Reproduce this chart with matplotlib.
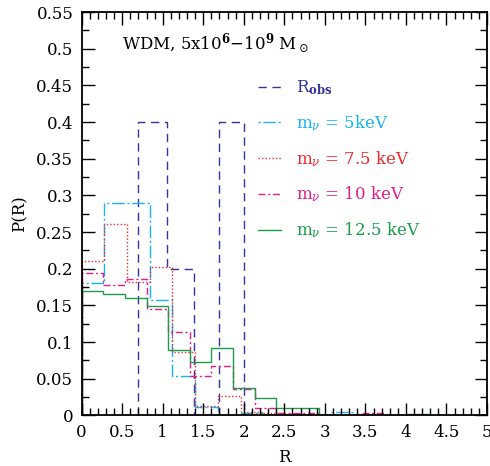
import numpy as np
import matplotlib
matplotlib.use("Agg")
import matplotlib.pyplot as plt
from matplotlib.ticker import MultipleLocator
from matplotlib.lines import Line2D

plt.rcParams['font.family'] = ['DejaVu Serif']
plt.rcParams['mathtext.fontset'] = 'dejavuserif'

# --- data ---
obs_edges = [0.70, 1.05, 1.38, 1.69, 2.00]
obs_vals = [0.40, 0.20, 0.00, 0.40]

w_a = 0.28          # bin width for 5 and 7.5 keV
cyan_vals = [0.180, 0.290, 0.290, 0.157, 0.054, 0.012, 0.0, 0.004, 0.0, 0.0, 0.0, 0.005]
red_vals = [0.2105, 0.2615, 0.182, 0.203, 0.087, 0.0127, 0.026, 0.005, 0.004, 0.002, 0.0, 0.0, 0.002]

w_b = 4.0 / 15.0    # bin width for 10 and 12.5 keV
mag_vals = [0.194, 0.1775, 0.1865, 0.1455, 0.1136, 0.0545, 0.0668, 0.0364, 0.010, 0.003, 0.003,
            0.0, 0.0, 0.004]
green_vals = [0.170, 0.166, 0.1605, 0.149, 0.0886, 0.0727, 0.0917, 0.0378, 0.0245, 0.0098, 0.0098,
              0.0, 0.0, 0.0, 0.0, 0.002]

labels = [r'R$_{\mathbf{obs}}$', r'm$_\nu$ = 5keV', r'm$_\nu$ = 7.5 keV',
          r'm$_\nu$ = 10 keV', r'm$_\nu$ = 12.5 keV']
colors = ['#34349a', '#18b4ec', '#ec2a30', '#e21d8c', '#1a9e4c']
title_text = r'WDM, 5x10$^\mathbf{6}$$-$10$^\mathbf{9}$ M$_\odot$'

fig = plt.figure(figsize=(4.9, 4.66), dpi=100)
ax = fig.add_axes([0.1667, 0.1084, 0.8272, 0.8658])

ax.stairs(obs_vals, obs_edges, baseline=0, color=colors[0], lw=1.0,
          linestyle=(0, (6, 4)))
e_a = np.arange(len(cyan_vals) + 1) * w_a
ax.stairs(cyan_vals, e_a, baseline=0, color=colors[1], lw=1.0,
          linestyle=(0, (9, 2, 1.5, 2)))
e_r = np.arange(len(red_vals) + 1) * w_a
ax.stairs(red_vals, e_r, baseline=0, color=colors[2], lw=1.0,
          linestyle=(0, (1, 1.5)))
e_m = np.arange(len(mag_vals) + 1) * w_b
ax.stairs(mag_vals, e_m, baseline=0, color=colors[3], lw=1.0,
          linestyle=(0, (5, 2, 1.5, 2)))
e_g = np.arange(len(green_vals) + 1) * w_b
ax.stairs(green_vals, e_g, baseline=0, color=colors[4], lw=1.0, linestyle='-')

handles = [Line2D([], [], color=colors[0], lw=1.0, linestyle=(0, (6, 4))),
           Line2D([], [], color=colors[1], lw=1.0, linestyle=(0, (1.5, 2, 9, 2))),
           Line2D([], [], color=colors[2], lw=1.0, linestyle=(0, (1, 1.5))),
           Line2D([], [], color=colors[3], lw=1.0, linestyle=(0, (5, 2, 1.5, 2))),
           Line2D([], [], color=colors[4], lw=1.0, linestyle='-')]
ax.legend(handles, labels, loc='upper left', bbox_to_anchor=(0.435, 0.835),
          frameon=False, borderaxespad=0, borderpad=0, fontsize=12,
          handlelength=1.4, handletextpad=0.85, labelspacing=0.96,
          labelcolor=colors)

ax.text(0.5, 0.506, title_text, fontsize=12, va='center', ha='left')

ax.set_xlim(0, 5)
ax.set_ylim(0, 0.55)
ax.xaxis.set_minor_locator(MultipleLocator(0.1))
ax.yaxis.set_minor_locator(MultipleLocator(0.025))
ax.set_xticks(np.arange(0, 5.01, 0.5))
ax.set_xticklabels(['0', '0.5', '1', '1.5', '2', '2.5', '3', '3.5', '4', '4.5', '5'])
ax.set_yticks(np.arange(0, 0.5501, 0.05))
ax.set_yticklabels(['0', '0.05', '0.1', '0.15', '0.2', '0.25', '0.3', '0.35', '0.4',
                    '0.45', '0.5', '0.55'])
ax.tick_params(which='both', direction='in', top=True, right=True, labelsize=12, width=1)
ax.tick_params(which='major', length=9, pad=6)
ax.tick_params(which='minor', length=5)
for s in ax.spines.values():
    s.set_linewidth(1.3)
ax.set_xlabel('R', fontsize=12, labelpad=6)
ax.set_ylabel('P(R)', fontsize=12, labelpad=6)

fig.savefig('out.png', dpi=100)
